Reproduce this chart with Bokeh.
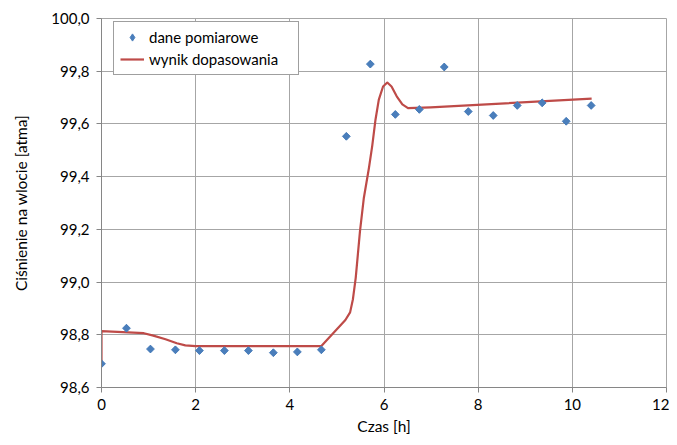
import math
from bokeh.plotting import figure
from bokeh.models import (Legend, LegendItem, FixedTicker, CustomJSTickFormatter,
                          ColumnDataSource)
from bokeh.embed import file_html
from bokeh.resources import INLINE

# measured data
czas = [0.0, 0.53, 1.04, 1.57, 2.08, 2.61, 3.12, 3.65, 4.16, 4.67, 5.20,
        5.71, 6.24, 6.75, 7.28, 7.79, 8.32, 8.83, 9.36, 9.87, 10.40]
cisnienie = [98.69, 98.825, 98.746, 98.743, 98.740, 98.740, 98.740, 98.732, 98.735, 98.743, 99.553,
             99.827, 99.636, 99.655, 99.816, 99.647, 99.632, 99.670, 99.680, 99.610, 99.670]

# fitted curve
fit_x = [0.0, 0.0, 0.9, 1.1, 1.36, 1.6, 1.78, 2.0, 4.67, 5.18, 5.28, 5.34, 5.40, 5.49, 5.57, 5.68,
         5.75, 5.82, 5.89, 5.98, 6.07, 6.16, 6.27, 6.39, 6.51, 6.99, 10.41]
fit_y = [98.69, 98.814, 98.806, 98.797, 98.783, 98.768, 98.760, 98.757, 98.757, 98.856, 98.885,
         98.935, 99.017, 99.193, 99.317, 99.433, 99.517, 99.617, 99.692, 99.742, 99.757, 99.742,
         99.705, 99.674, 99.660, 99.663, 99.696]

x_ticks = [0, 2, 4, 6, 8, 10, 12]
y_ticks = [98.6, 98.8, 99.0, 99.2, 99.4, 99.6, 99.8, 100.0]

FONT = "Lato"
GRID = "#a6a6a6"
BLUE = "#4a7ebb"

p = figure(width=669, height=437, x_range=(0, 12), y_range=(98.6, 100.0),
           output_backend="svg", toolbar_location=None,
           min_border_left=101, min_border_right=3, min_border_top=18, min_border_bottom=46)

p.outline_line_color = GRID
p.background_fill_color = "white"
p.border_fill_color = "white"

p.xaxis.ticker = FixedTicker(ticks=x_ticks)
p.yaxis.ticker = FixedTicker(ticks=y_ticks)
p.yaxis.formatter = CustomJSTickFormatter(code="return tick.toFixed(1).replace('.', ',');")
p.xaxis.formatter = CustomJSTickFormatter(code="return tick.toFixed(0);")

for ax in (p.xaxis[0], p.yaxis[0]):
    ax.axis_line_color = "#868686"
    ax.major_tick_line_color = "#868686"
    ax.major_tick_out = 5
    ax.major_tick_in = 0
    ax.minor_tick_line_color = None
    ax.major_label_text_font = FONT
    ax.major_label_text_font_size = "15px"
    ax.major_label_text_color = "#000000"
    ax.axis_label_text_font = FONT
    ax.axis_label_text_font_size = "15.5px"
    ax.axis_label_text_font_style = "normal"
    ax.axis_label_text_color = "#000000"

p.xaxis.axis_label = "Czas [h]"
p.yaxis.axis_label = "Ciśnienie na wlocie [atma]"
p.xaxis.major_label_standoff = 6
p.xaxis.axis_label_standoff = 4
p.yaxis.major_label_standoff = 7
p.yaxis.axis_label_standoff = 18

p.xgrid.grid_line_color = GRID
p.ygrid.grid_line_color = GRID
p.xgrid.grid_line_width = 1
p.ygrid.grid_line_width = 1

src = ColumnDataSource(data=dict(x=czas, y=cisnienie))

line = p.line(fit_x, fit_y, line_color="#be4b48", line_width=2.2, line_join="round")
# small diamond glyph (fully covered by the rotated squares) used for the legend entry
pts_leg = p.scatter("x", "y", source=src, marker="diamond", size=7,
                    fill_color=BLUE, line_color=BLUE)
pts = p.scatter("x", "y", source=src, marker="square", angle=math.pi / 4, size=5.5,
                fill_color=BLUE, line_color=BLUE, line_width=1)

legend = Legend(items=[LegendItem(label="dane pomiarowe", renderers=[pts_leg]),
                       LegendItem(label="wynik dopasowania", renderers=[line])],
                location=(12, 312))
legend.label_text_font = FONT
legend.label_text_font_size = "15px"
legend.label_text_color = "#000000"
legend.border_line_color = "#404040"
legend.border_line_width = 1
legend.padding = 6
legend.spacing = 4
legend.glyph_width = 24
legend.glyph_height = 18
legend.label_height = 18
legend.label_width = 143
legend.label_standoff = 5
legend.margin = 0
legend.background_fill_color = "white"
legend.background_fill_alpha = 1.0
p.add_layout(legend, "center")

open("out.html", "w").write(file_html(p, INLINE))
